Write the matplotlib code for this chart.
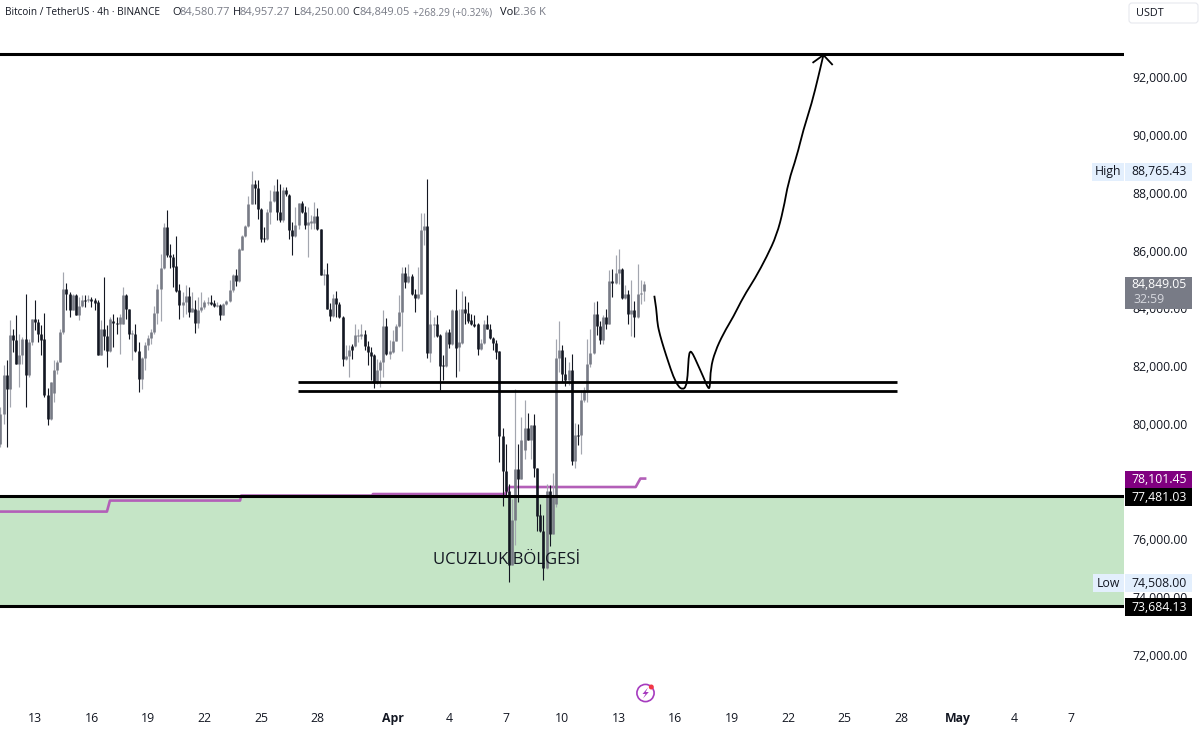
import numpy as np
import matplotlib
matplotlib.use("Agg")
import matplotlib.pyplot as plt
from matplotlib.patches import Rectangle, Circle, FancyBboxPatch, Polygon, PathPatch
from matplotlib.path import Path

plt.rcParams["font.family"] = ["Open Sans", "DejaVu Sans"]

# 4h candles, first one sits 11 bars before 13 Mar
opens = [79306, 80345, 81673, 81211, 83059, 82886, 82078, 82366, 82944, 81673, 82828, 83637, 83521, 83117, 82921, 80980,
         80149, 81073, 81847, 82135, 83175, 84676, 84503, 83925, 84445, 83775, 84064, 84295, 84272, 84318, 84272, 84226,
         82366, 83267, 83036, 82516, 83556, 83498, 83464, 83464, 84445, 83960, 83094, 83117, 82516, 81558, 82285, 82713,
         82978, 83163, 83845, 84676, 85404, 86813, 85831, 85773, 85450, 84642, 84099, 84214, 84411, 83868, 83983, 83487,
         83925, 84041, 84180, 84214, 84180, 84087, 84122, 83775, 84134, 84249, 84642, 85138, 84942, 86028, 86490, 86836,
         87622, 88315, 88176, 87448, 86443, 86397, 87333, 87714, 88060, 87333, 87067, 88083, 87910, 86721, 86490, 86871,
         87645, 87333, 86871, 86952, 86952, 87183, 86755, 85138, 85196, 83983, 83718, 84365, 84134, 83694, 82228, 82343,
         82701, 82678, 83036, 83048, 83094, 82678, 82482, 82366, 81408, 81870, 82135, 83383, 82401, 82482, 82863, 83383,
         83868, 85231, 84896, 85104, 84480, 84353, 84503, 86698, 86848, 82447, 83429, 83441, 83059, 82020, 81985, 83175,
         82747, 83949, 82655, 82805, 83960, 83833, 83579, 83464, 83464, 82574, 82794, 83464, 83290, 82967, 82794, 82505,
         79572, 78359, 77666, 75090, 76650, 78440, 78093, 79098, 79860, 79445, 79941, 78463, 76823, 76268, 75010, 77666,
         76187, 77227, 82285, 82563, 81731, 81500, 81847, 78705, 79617, 79594, 80807, 81153, 82078, 82447, 83810, 83371,
         82886, 83694, 83464, 84942, 84873, 85219, 85369, 84365, 84503, 83787, 83949, 83694, 84503, 84580.77]
highs = [80576, 82020, 82193, 83579, 83290, 83752, 83117, 83002, 84503, 82944, 83637, 84272, 83637, 83406, 83845, 81234,
         81442, 82193, 82193, 83290, 85254, 84884, 84561, 84503, 84503, 84388, 84445, 84468, 84445, 84388, 84365, 84272,
         83579, 85081, 83406, 83694, 83810, 83694, 83810, 84734, 84503, 83983, 83233, 83441, 82828, 82309, 82828, 83059,
         83290, 84076, 84826, 85889, 86952, 87414, 86236, 85889, 86490, 84849, 84561, 84792, 84734, 84561, 84272, 84388,
         84561, 84272, 84388, 84468, 84272, 84214, 84157, 84180, 84272, 84965, 85196, 85369, 86097, 86524, 86871, 87876,
         88765, 88430, 88430, 87471, 86813, 87448, 88083, 88257, 88488, 88315, 88199, 88199, 87968, 86986, 87506, 87645,
         87714, 87529, 87506, 87217, 87679, 87471, 86755, 85369, 85566, 84180, 84503, 84584, 84214, 83718, 82713, 82713,
         82771, 83464, 83290, 83464, 83233, 82863, 82655, 82424, 82251, 82193, 83925, 83671, 82886, 83233, 83464, 84445,
         85427, 85427, 85543, 85196, 84676, 85427, 87298, 87298, 88465, 83925, 83694, 83752, 83117, 82366, 83233, 83290,
         83983, 84676, 83983, 84584, 84411, 84214, 83810, 83752, 83498, 82944, 83579, 83775, 83464, 83002, 82886, 82505,
         79860, 79283, 77920, 77400, 81212, 79306, 80230, 80831, 80369, 79941, 80346, 78474, 77227, 76823, 77920, 77862,
         78290, 82944, 83544, 82713, 82309, 82135, 82424, 80022, 79999, 81153, 81269, 82944, 83290, 84214, 84249, 83556,
         83752, 83983, 85312, 85369, 85831, 86062, 85404, 84792, 84619, 84965, 84249, 85519, 84965, 84957.27]
lows = [79190, 79999, 79190, 80576, 82482, 82078, 81269, 82078, 80576, 81616, 82713, 83233, 82828, 82366, 80923, 79941,
        80114, 80749, 81731, 82135, 83117, 83925, 83694, 83925, 83752, 83579, 84041, 84041, 84214, 84041, 83925, 82366,
        82366, 82540, 81962, 82482, 82655, 83117, 82424, 83441, 83637, 82944, 82193, 82482, 81096, 81211, 81847, 82540,
        82771, 83117, 83464, 83556, 85369, 85773, 85404, 84734, 84561, 83614, 83694, 83810, 83694, 83868, 83152, 83325,
        83868, 83983, 84099, 84099, 84041, 84041, 83579, 83752, 84099, 84214, 84561, 84769, 84907, 86005, 86467, 86813,
        87598, 87622, 87102, 86293, 86293, 86374, 86929, 87679, 87067, 86986, 86986, 87876, 86409, 85831, 86467, 86755,
        87298, 86755, 85773, 86755, 86755, 86721, 85138, 84792, 83983, 83556, 83694, 83694, 83671, 81985, 82193, 81616,
        82228, 82655, 82828, 82944, 82540, 82020, 81523, 81246, 81361, 81269, 81616, 82366, 82228, 82447, 82863, 83348,
        82516, 84711, 84873, 84457, 83868, 84330, 84480, 86178, 82285, 82135, 83002, 83002, 81153, 81523, 81962, 82620,
        82713, 81616, 81824, 82771, 83464, 83487, 83406, 83348, 82366, 82563, 82771, 83267, 82944, 82540, 82228, 78671,
        77135, 77458, 74508, 75090, 75783, 77285, 78093, 78786, 79421, 78786, 78151, 76280, 76245, 74594, 74975, 75760,
        76164, 77112, 81789, 81442, 81292, 81327, 78555, 78462, 79248, 78959, 80749, 80749, 81962, 82424, 83059, 82771,
        82771, 83290, 83441, 84388, 84849, 84826, 84330, 84330, 83464, 83036, 83002, 83671, 84157, 84250.00]
closes = [80345, 81673, 81211, 83059, 82886, 82078, 82366, 82944, 81673, 82828, 83637, 83521, 83117, 82886, 80980, 80149,
          81442, 81847, 82135, 83175, 84676, 84503, 83925, 84445, 83775, 84064, 84272, 84237, 84318, 84249, 84191, 82366,
          83267, 83036, 82516, 83637, 83487, 83464, 83694, 84445, 83960, 83094, 83140, 82516, 81558, 82285, 82713, 82978,
          83163, 83845, 84676, 85404, 86813, 85831, 85773, 85427, 84595, 84099, 84214, 84411, 83868, 84018, 83487, 83925,
          84041, 84214, 84214, 84157, 84087, 84122, 83775, 84134, 84249, 84642, 85138, 84942, 86062, 86490, 86836, 87622,
          88315, 88176, 87425, 86409, 86397, 87333, 87714, 88060, 87333, 87067, 88083, 87945, 86698, 86490, 86871, 87645,
          87333, 86871, 86986, 87009, 87183, 86732, 85138, 85196, 83983, 83718, 84365, 84134, 83694, 82228, 82343, 82563,
          82563, 83059, 83059, 83094, 82678, 82482, 82332, 81408, 81870, 82135, 83383, 82401, 82516, 82863, 83383, 83868,
          85231, 84896, 85104, 84480, 84353, 84503, 86698, 86848, 82447, 83441, 83464, 83036, 81985, 81985, 83175, 82747,
          83949, 82632, 82828, 83960, 83833, 83556, 83441, 83383, 82574, 82794, 83464, 83290, 82967, 82794, 82482, 79572,
          78359, 77666, 75090, 76650, 78440, 78093, 79421, 79860, 79445, 79941, 78463, 76800, 76268, 75010, 77666, 76187,
          77516, 82285, 82540, 81731, 81500, 81847, 78705, 79594, 79571, 80807, 81153, 82078, 82447, 83810, 83371, 82886,
          83694, 83464, 84942, 84873, 85219, 85369, 84365, 84503, 83787, 83949, 83694, 84503, 84526, 84849.05]

# purple stepped line
ma_days = [-1.86, 3.82, 3.98, 10.89, 10.95, 17.9, 17.95, 24.96, 25.2, 31.9, 32.15, 32.4]
ma_prices = [76957, 76957, 77339, 77339, 77512, 77512, 77565, 77565, 77808, 77808, 78101, 78101]

# hand drawn path with arrow
path_days = [32.89, 33.01, 33.05, 33.19, 33.40, 33.63, 33.90, 34.17, 34.40, 34.57, 34.66, 34.71, 34.79, 34.93, 35.17, 35.49, 35.76,
             35.85, 35.88, 36.11, 36.56, 37.09, 37.62, 38.24, 38.86, 39.39, 39.74, 40.01, 40.45, 40.80, 41.25, 41.60, 41.87]
path_prices = [84433, 83937, 83475, 83070, 82608, 82146, 81627, 81280, 81188, 81280, 81627, 82320, 82527, 82435, 82088, 81627, 81199,
               81280, 81915, 82493, 83128, 83706, 84399, 85034, 85784, 86535, 87402, 88383, 89250, 90174, 91098, 92022, 92772]
head_days = [41.33, 41.87, 42.33]
head_prices = [92518, 92772, 92449]

top_level = 92807
support_levels = [81450, 81150]
support_days = [13.97, 45.8]
zone_top = 77481.03
zone_bottom = 73684.13

# 78,000 sits fully under the price tags
price_ticks = [92000, 90000, 88000, 86000, 84000, 82000, 80000, 76000, 74000, 72000]
day_ticks = [0, 3, 6, 9, 12, 15, 19, 22, 25, 28, 31, 34, 37, 40, 43, 46, 49, 52, 55]
day_labels = ["13", "16", "19", "22", "25", "28", "Apr", "4", "7", "10", "13", "16", "19", "22", "25", "28", "May", "4", "7"]

UP = "#787b86"
UP_WICK = "#a3a6af"
DOWN = "#131722"
W, H = 1200, 729
PANE_W, PANE_H = 1124, 700
PX_PER_USD = 0.02887
PX_PER_DAY = 18.83


def price_to_px(p):
    return 78.3 + (92000 - p) * PX_PER_USD


def smooth_path(xs, ys):
    # quadratic curve through the midpoints, the stroke is freehand in the original
    pts = np.column_stack([xs, ys])
    verts = [pts[0]]
    codes = [Path.MOVETO]
    for i in range(1, len(pts) - 1):
        verts += [pts[i], (pts[i] + pts[i + 1]) / 2]
        codes += [Path.CURVE3, Path.CURVE3]
    verts.append(pts[-1])
    codes.append(Path.LINETO)
    return Path(verts, codes)


opens, highs, lows, closes = map(np.array, (opens, highs, lows, closes))
days = (np.arange(len(opens)) - 11) / 6
up = closes >= opens

fig = plt.figure(figsize=(W / 100, H / 100), dpi=100)
ax = fig.add_axes([0, (H - PANE_H) / H, PANE_W / W, PANE_H / H])
ax.set_xlim(-35 / PX_PER_DAY, (PANE_W - 35) / PX_PER_DAY)
ax.set_ylim(92000 - (PANE_H - 77.3) / PX_PER_USD, 92000 + 77.3 / PX_PER_USD)

ax.axhspan(zone_bottom, zone_top, color="#c5e5c6", lw=0, zorder=1)
ax.plot(ma_days, ma_prices, color="#b35fb8", lw=1.9, zorder=2, solid_joinstyle="round")

# candles
ax.vlines(days[up], lows[up], highs[up], color=UP_WICK, lw=0.85, zorder=3)
ax.vlines(days[~up], lows[~up], highs[~up], color=DOWN, lw=0.8, zorder=3.1)
ax.vlines(days[up], opens[up], closes[up], color=UP, lw=1.9, zorder=3.2)
ax.vlines(days[~up], closes[~up], opens[~up], color=DOWN, lw=1.9, zorder=3.3)

# levels drawn on the chart
ax.axhline(top_level, color="black", lw=2.2, zorder=5)
ax.axhline(zone_top, color="black", lw=2.2, zorder=5)
ax.axhline(zone_bottom, color="black", lw=2.2, zorder=5)
for lvl in support_levels:
    ax.plot(support_days, [lvl, lvl], color="black", lw=2.0, zorder=5, solid_capstyle="butt")

ax.add_patch(PathPatch(smooth_path(path_days, path_prices), fc="none", ec="black", lw=1.3, zorder=6))
ax.plot(head_days, head_prices, color="black", lw=1.3, zorder=6)

ax.text(25.04, 75285, "UCUZLUK BÖLGESİ", ha="center", va="center", fontsize=12, color="#131722", zorder=7)

ax.yaxis.tick_right()
ax.set_yticks(price_ticks, labels=[f"{p:,.2f}" for p in price_ticks])
ax.set_xticks(day_ticks, labels=day_labels)
ax.tick_params(axis="both", length=0, labelsize=8.8, labelcolor="#131722")
ax.tick_params(axis="y", pad=6.2)
ax.tick_params(axis="x", pad=8.5)
for lab in ax.get_xticklabels():
    if lab.get_text() in ("Apr", "May"):
        lab.set_fontweight("bold")
for side in ax.spines.values():
    side.set_visible(False)

# screen chrome on top, in pixel coords
ov = fig.add_axes([0, 0, 1, 1])
ov.set_xlim(0, W)
ov.set_ylim(H, 0)
ov.axis("off")
ov.patch.set_alpha(0)


def tag(price, text, bg, fg="#131722", x0=1125, x1=1192, h=18):
    y = price_to_px(price)
    ov.add_patch(Rectangle((x0, y - h / 2), x1 - x0, h, fc=bg, ec="none"))
    ov.text(1187, y, text, ha="right", va="center", fontsize=8.8, color=fg)


tag(88765.43, "88,765.43", "#e3effd")
ov.add_patch(Rectangle((1092, price_to_px(88765.43) - 9), 32, 18, fc="#e3effd", ec="none"))
ov.text(1108, price_to_px(88765.43), "High", ha="center", va="center", fontsize=8.8, color="#131722")

tag(74508, "74,508.00", "#e3effd")
ov.add_patch(Rectangle((1093, price_to_px(74508) - 9), 31, 18, fc="#e3effd", ec="none"))
ov.text(1108, price_to_px(74508), "Low", ha="center", va="center", fontsize=8.8, color="#131722")

y_last = price_to_px(84849.05)
ov.add_patch(Rectangle((1125, y_last - 8), 67, 32, fc=UP, ec="none"))
ov.text(1187, y_last, "84,849.05", ha="right", va="center", fontsize=8.8, color="white")
ov.text(1133, y_last + 15, "32:59", ha="left", va="center", fontsize=8.8, color="#d6d8de")

tag(78101.45, "78,101.45", "#800080", fg="white")
tag(77481.03, "77,481.03", "black", fg="white")
tag(73684.13, "73,684.13", "black", fg="white")

# currency button
ov.add_patch(FancyBboxPatch((1129, 3), 69, 20, boxstyle="round,pad=0,rounding_size=3", fc="white", ec="#e6e8ee", lw=0.8))
ov.text(1136, 13.5, "USDT", ha="left", va="center", fontsize=7.8, color="#131722")

# legend line
dark = "#131722"
grey = "#787b86"
legend_bits = [
    (5.4, "Bitcoin / TetherUS · 4h · BINANCE", dark, 7.2),
    (172.4, "O", dark, 8.0), (180, "84,580.77", grey, 8.0),
    (233, "H", dark, 8.0), (240, "84,957.27", grey, 8.0),
    (293.5, "L", dark, 8.0), (299, "84,250.00", grey, 8.0),
    (352.5, "C", dark, 8.0), (359, "84,849.05", grey, 8.0),
    (412.6, "+268.29 (+0.32%)", grey, 7.2),
    (500, "Vol", dark, 8.0), (514.5, "2.36 K", grey, 8.0),
]
for x, s, c, fs in legend_bits:
    ov.text(x, 15, s, ha="left", va="baseline", fontsize=fs, color=c)

# bolt badge
ov.add_patch(Circle((645.5, 693), 8.6, fc="white", ec="#a63bbf", lw=1.2))
ov.add_patch(Polygon([(648, 687.5), (642.5, 694), (645.5, 694), (643, 698.5), (648.8, 692), (645.7, 692)], fc="#a63bbf", ec="none"))
ov.add_patch(Circle((651.3, 687), 2.5, fc="#f23645", ec="none"))

fig.savefig("out.png", dpi=100)
